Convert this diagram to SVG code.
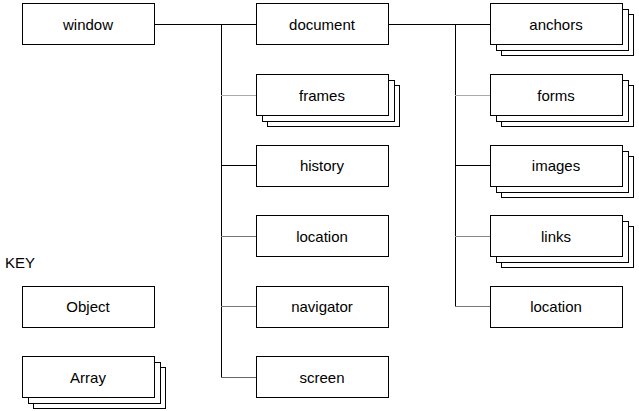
<svg xmlns="http://www.w3.org/2000/svg" width="639" height="411" viewBox="0 0 639 411">
<style>
rect{fill:#fff;stroke:#000;stroke-width:1}
text{font-family:"Liberation Sans",Arial,sans-serif;font-size:15px;fill:#000;text-anchor:middle}
line{stroke-width:1}
</style>
<defs>
<g id="stack">
<rect x="11.5" y="11.5" width="132" height="41"/>
<rect x="6.5" y="6.5" width="132" height="41"/>
<rect x="0.5" y="0.5" width="132" height="41"/>
</g>
<rect id="box" x="0.5" y="0.5" width="132" height="41"/>
</defs>
<rect x="0" y="0" width="639" height="411" style="fill:#fff;stroke:none"/>
<g id="connectors">
<line x1="154" y1="24.5" x2="256" y2="24.5" stroke="#000"/>
<line x1="221.5" y1="24" x2="221.5" y2="378" stroke="#000"/>
<line x1="221" y1="95.5" x2="256" y2="95.5" stroke="#aaa"/>
<line x1="221" y1="165.5" x2="256" y2="165.5" stroke="#000"/>
<line x1="221" y1="236.5" x2="256" y2="236.5" stroke="#777"/>
<line x1="221" y1="306.5" x2="256" y2="306.5" stroke="#777"/>
<line x1="221" y1="377.5" x2="256" y2="377.5" stroke="#666"/>
<line x1="388" y1="24.5" x2="490" y2="24.5" stroke="#000"/>
<line x1="455.5" y1="24" x2="455.5" y2="307" stroke="#000"/>
<line x1="455" y1="95.5" x2="490" y2="95.5" stroke="#aaa"/>
<line x1="455" y1="165.5" x2="490" y2="165.5" stroke="#000"/>
<line x1="455" y1="236.5" x2="490" y2="236.5" stroke="#888"/>
<line x1="455" y1="306.5" x2="490" y2="306.5" stroke="#777"/>
</g>
<g id="window"><use href="#box" x="22" y="3"/><text x="88" y="29.5">window</text></g>
<g id="document"><use href="#box" x="256" y="3"/><text x="322" y="29.5">document</text></g>
<g id="frames"><use href="#stack" x="256" y="74"/><text x="322" y="100.5">frames</text></g>
<g id="history"><use href="#box" x="256" y="145"/><text x="322" y="171">history</text></g>
<g id="location1"><use href="#box" x="256" y="215"/><text x="322" y="241.5">location</text></g>
<g id="navigator"><use href="#box" x="256" y="286"/><text x="322" y="312">navigator</text></g>
<g id="screen"><use href="#box" x="256" y="356"/><text x="322" y="382.5">screen</text></g>
<g id="anchors"><use href="#stack" x="490" y="3"/><text x="556" y="29.5">anchors</text></g>
<g id="forms"><use href="#stack" x="490" y="74"/><text x="556" y="100.5">forms</text></g>
<g id="images"><use href="#stack" x="490" y="145"/><text x="556" y="171">images</text></g>
<g id="links"><use href="#stack" x="490" y="215"/><text x="556" y="241.5">links</text></g>
<g id="location2"><use href="#box" x="490" y="286"/><text x="556" y="312">location</text></g>
<g id="key"><text x="5" y="268" style="text-anchor:start">KEY</text></g>
<g id="object"><use href="#box" x="22" y="286"/><text x="88" y="312">Object</text></g>
<g id="array"><use href="#stack" x="22" y="356"/><text x="88" y="382.5">Array</text></g>
</svg>
